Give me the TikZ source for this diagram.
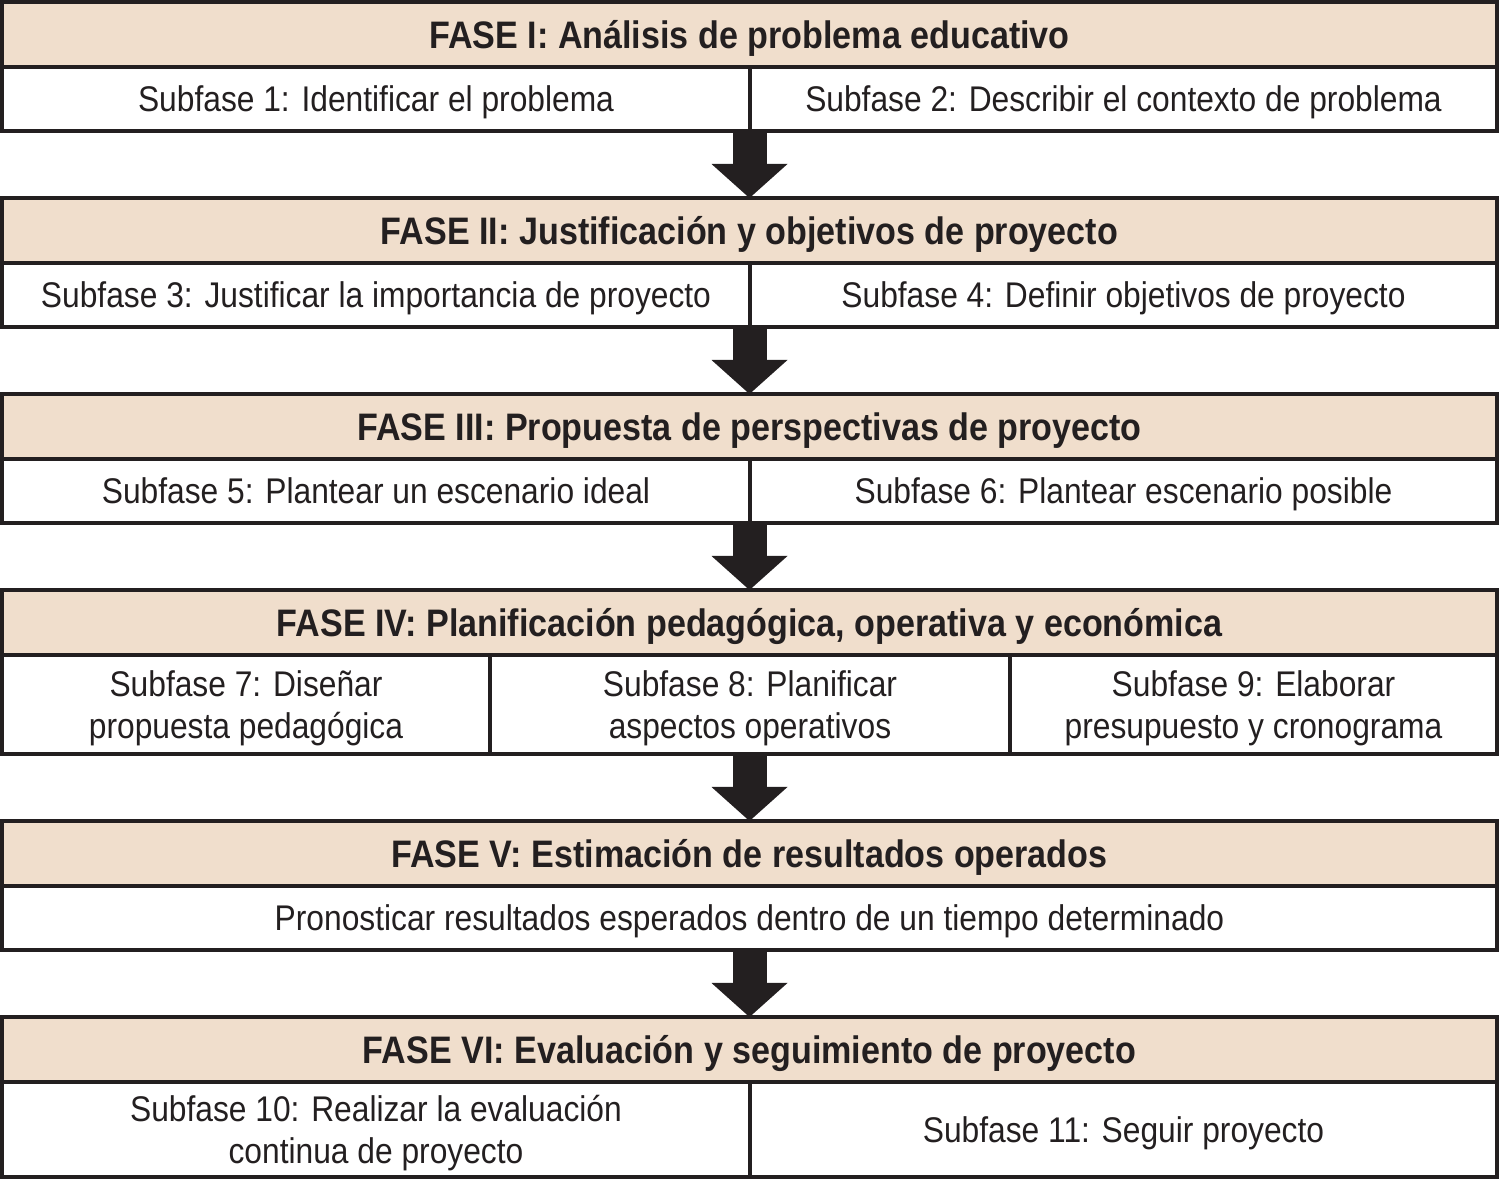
\documentclass[tikz,border=0pt]{standalone}
\usepackage{fontspec}
\setmainfont{Liberation Sans}[FakeStretch=0.89]
\usetikzlibrary{arrows.meta,positioning}
\definecolor{fondo}{RGB}{240,222,204}
\definecolor{negro}{RGB}{35,31,32}

\begin{document}
\begin{tikzpicture}[
    fase/.style={draw=negro, line width=1.1pt, fill=fondo, outer sep=0pt, inner sep=0pt,
      minimum width=14.95cm, minimum height=0.65cm, text=negro,
      font=\fontsize{10.9}{13}\selectfont\bfseries, text height=7.8pt, text depth=0pt},
    sub/.style={draw=negro, line width=1.1pt, outer sep=0pt, inner sep=0pt,
      minimum height=0.64cm, text=negro, align=center,
      font=\fontsize{10.15}{11.95}\selectfont},
    una/.style={sub, text height=7.3pt, text depth=0pt},
    dos/.style={sub, text height=19.25pt, text depth=0pt},
    flecha/.style={negro, line width=0.34cm, -{Triangle[width=0.76cm, length=0.34cm, line width=0pt]}}
  ]
    \useasboundingbox (0,0) rectangle (15,-11.81);

    % Fase I
    \node[fase, anchor=north west] (f1) at (0.02,-0.02) {FASE I: Análisis de problema educativo};
    \node[una, minimum width=7.48cm, below right=0cm and 0cm of f1.south west] (s1) {Subfase 1: Identificar el problema};
    \node[una, minimum width=7.47cm, right=0cm of s1] (s2) {Subfase 2: Describir el contexto de problema};

    % Fase II
    \node[fase, below right=0.67cm and 0cm of s1.south west] (f2) {FASE II: Justificación y objetivos de proyecto};
    \node[una, minimum width=7.48cm, below right=0cm and 0cm of f2.south west] (s3) {Subfase 3: Justificar la importancia de proyecto};
    \node[una, minimum width=7.47cm, right=0cm of s3] (s4) {Subfase 4: Definir objetivos de proyecto};

    % Fase III
    \node[fase, below right=0.67cm and 0cm of s3.south west] (f3) {FASE III: Propuesta de perspectivas de proyecto};
    \node[una, minimum width=7.48cm, below right=0cm and 0cm of f3.south west] (s5) {Subfase 5: Plantear un escenario ideal};
    \node[una, minimum width=7.47cm, right=0cm of s5] (s6) {Subfase 6: Plantear escenario posible};

    % Fase IV
    \node[fase, below right=0.67cm and 0cm of s5.south west] (f4) {FASE IV: Planificación pedagógica, operativa y económica};
    \node[dos, minimum width=4.88cm, minimum height=0.99cm, below right=0cm and 0cm of f4.south west] (s7) {Subfase 7: Diseñar\\propuesta pedagógica};
    \node[dos, minimum width=5.20cm, minimum height=0.99cm, right=0cm of s7] (s8) {Subfase 8: Planificar\\aspectos operativos};
    \node[dos, minimum width=4.87cm, minimum height=0.99cm, right=0cm of s8] (s9) {Subfase 9: Elaborar\\presupuesto y cronograma};

    % Fase V
    \node[fase, below right=0.67cm and 0cm of s7.south west] (f5) {FASE V: Estimación de resultados operados};
    \node[una, minimum width=14.95cm, below=0cm of f5] (pron) {Pronosticar resultados esperados dentro de un tiempo determinado};

    % Fase VI
    \node[fase, below right=0.67cm and 0cm of pron.south west] (f6) {FASE VI: Evaluación y seguimiento de proyecto};
    \node[dos, minimum width=7.48cm, minimum height=0.95cm, below right=0cm and 0cm of f6.south west] (s10) {Subfase 10: Realizar la evaluación\\continua de proyecto};
    \node[una, minimum width=7.47cm, minimum height=0.95cm, right=0cm of s10] (s11) {Subfase 11: Seguir proyecto};

    \draw[flecha] (f1 |- s1.south) -- (f2.north);
    \draw[flecha] (f2 |- s3.south) -- (f3.north);
    \draw[flecha] (f3 |- s5.south) -- (f4.north);
    \draw[flecha] (f4 |- s8.south) -- (f5.north);
    \draw[flecha] (pron.south) -- (f6.north);
\end{tikzpicture}
\end{document}
